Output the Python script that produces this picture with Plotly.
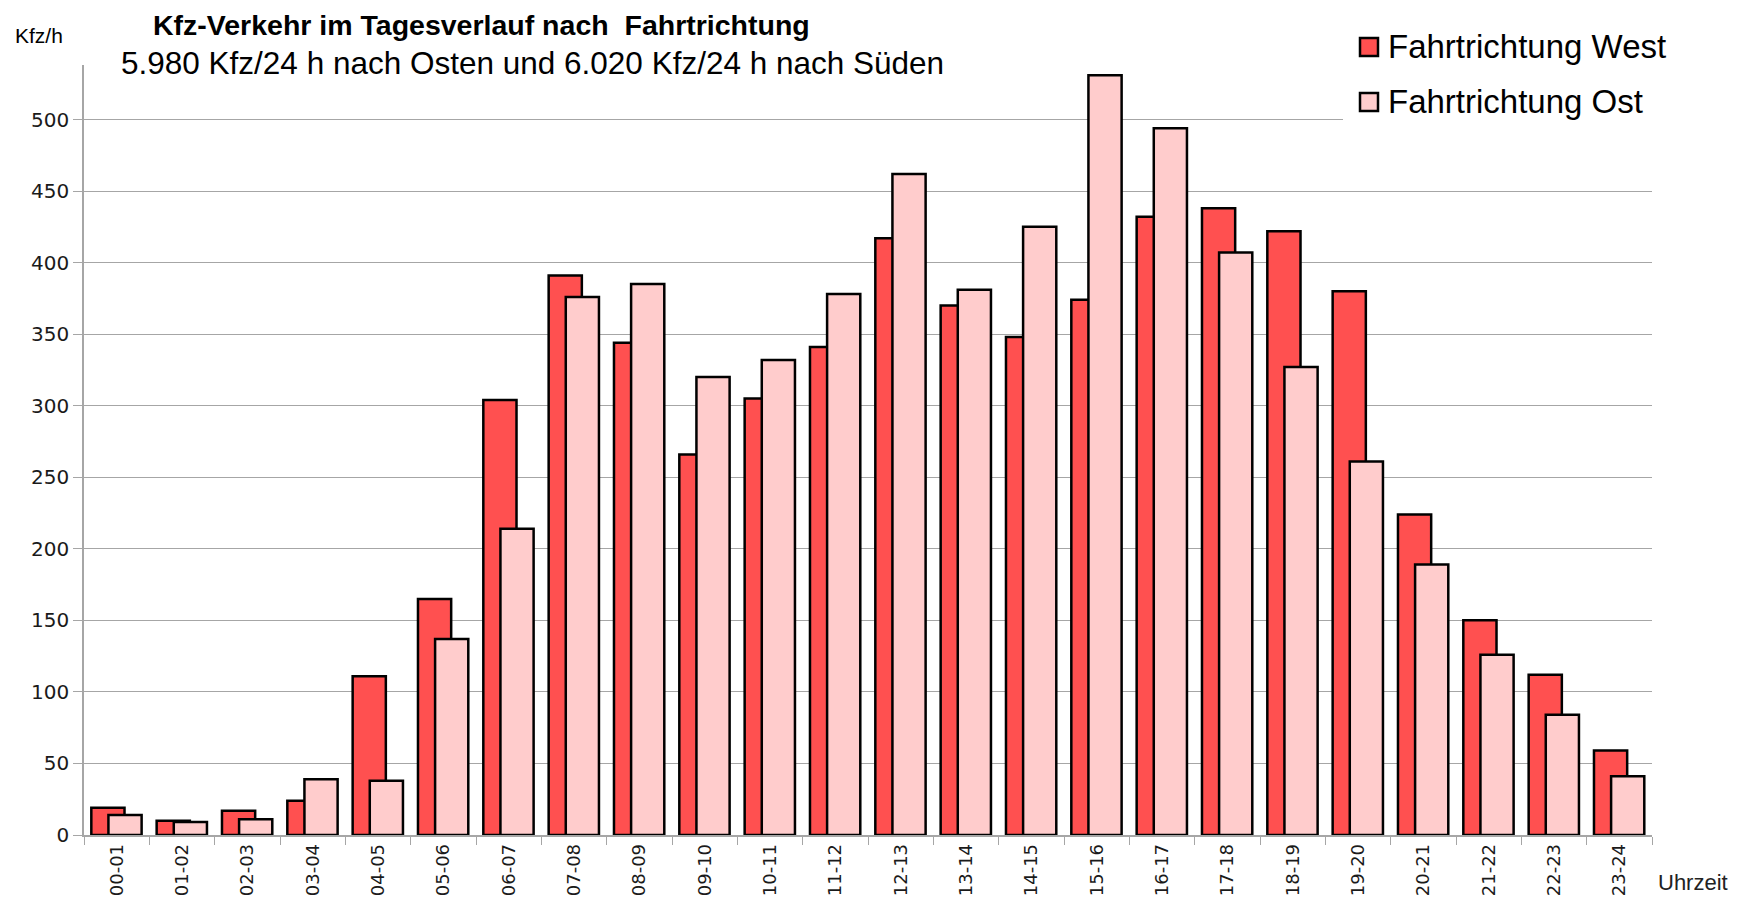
import plotly.graph_objects as go

# Stundenintervalle
hours = [f"{h:02d}-{h + 1:02d}" for h in range(24)]

# Kfz/h je Fahrtrichtung
west = [19, 10, 17, 24, 111, 165, 304, 391, 344, 266, 305, 341,
        417, 370, 348, 374, 432, 438, 422, 380, 224, 150, 112, 59]
ost = [14, 9, 11, 39, 38, 137, 214, 376, 385, 320, 332, 378,
       462, 381, 425, 531, 494, 407, 327, 261, 189, 126, 84, 41]

y_ticks = list(range(0, 551, 50))
y_ticktext = [str(v) for v in y_ticks[:-1]] + [""]

# die Seite hat 8 px Rand, daher Figur etwas kleiner und alles um 8 px versetzt
PAD = 8
W, H = 1760 - PAD, 901 - PAD
L, R, T, B = 84 - PAD, 108, 48 - PAD, 66
PW, PH = W - L - R, H - T - B


def px(x):
    return (x - PAD - L) / PW


def py(y):
    return (H - B - (y - PAD)) / PH


TEXTFONT = "Liberation Sans, Arial, sans-serif"
TICKFONT = dict(family="DejaVu Sans", size=20, color="#1a1a1a")

fig = go.Figure()
fig.add_trace(go.Bar(
    x=hours, y=west, name="Fahrtrichtung West",
    offset=-0.388, width=0.508,
    marker=dict(color="#FF5050", line=dict(color="black", width=2.5)),
))
fig.add_trace(go.Bar(
    x=hours, y=ost, name="Fahrtrichtung Ost",
    offset=-0.126, width=0.508,
    marker=dict(color="#FFCCCC", line=dict(color="black", width=2.5)),
))

shapes = [
    # weiße Kästen hinter Titel und Legende (verdecken Gitterlinien)
    dict(type="rect", xref="paper", yref="paper", x0=px(70), x1=px(993),
         y0=py(65), y1=py(0), fillcolor="white", line=dict(width=0), layer="above"),
    dict(type="rect", xref="paper", yref="paper", x0=px(1343), x1=px(1760),
         y0=py(129), y1=py(0), fillcolor="white", line=dict(width=0), layer="above"),
]
annotations = [
    dict(text="<b>Kfz-Verkehr im Tagesverlauf nach \u00a0Fahrtrichtung</b>",
         xref="paper", yref="paper", x=px(152), y=py(25), xanchor="left", yanchor="middle",
         showarrow=False, borderpad=0,
         font=dict(family=TEXTFONT, size=28.5, color="black")),
    dict(text="5.980 Kfz/24 h nach Osten und 6.020 Kfz/24 h nach Süden",
         xref="paper", yref="paper", x=px(119), y=py(63), xanchor="left", yanchor="middle",
         showarrow=False, font=dict(family=TEXTFONT, size=31.5, color="black")),
    dict(text="Kfz/h", xref="paper", yref="paper", x=px(13), y=py(36),
         xanchor="left", yanchor="middle", showarrow=False,
         font=dict(family=TEXTFONT, size=21, color="black")),
    dict(text="Uhrzeit", xref="paper", yref="paper", x=px(1656), y=py(882),
         xanchor="left", yanchor="middle", showarrow=False,
         font=dict(family=TEXTFONT, size=22, color="#222222")),
]

# Legende von Hand (größere Symbole als die Plotly-Legende)
legend_items = [("Fahrtrichtung West", "#FF5050", 47), ("Fahrtrichtung Ost", "#FFCCCC", 102)]
for label, color, yc in legend_items:
    shapes.append(dict(type="rect", xref="paper", yref="paper",
                       x0=px(1360), x1=px(1378), y0=py(yc + 9), y1=py(yc - 9),
                       fillcolor=color, line=dict(color="black", width=2.5), layer="above"))
    annotations.append(dict(text=label, xref="paper", yref="paper", x=px(1386), y=py(yc),
                            xanchor="left", yanchor="middle", showarrow=False,
                            font=dict(family=TEXTFONT, size=33, color="black")))

fig.update_layout(
    width=W, height=H,
    margin=dict(l=L, r=R, t=T, b=B, autoexpand=False),
    paper_bgcolor="white", plot_bgcolor="white",
    barmode="overlay",
    showlegend=False,
    shapes=shapes,
    annotations=annotations,
    xaxis=dict(
        type="category", tickangle=-90, automargin=False,
        tickfont=dict(family="DejaVu Sans", size=18, color="#1a1a1a"),
        showline=True, linecolor="#a6a6a6", linewidth=1.5,
        ticks="outside", tickson="boundaries", ticklen=8, tickcolor="#a6a6a6",
        showgrid=False, range=[-0.5, 23.5],
    ),
    yaxis=dict(
        range=[0, 550], tickvals=y_ticks, ticktext=y_ticktext, tickfont=TICKFONT,
        automargin=False,
        showline=True, linecolor="#a6a6a6", linewidth=1.5,
        ticks="outside", ticklen=9, tickcolor="#a6a6a6",
        showgrid=True, gridcolor="#a6a6a6", gridwidth=1.2, zeroline=False,
    ),
)

fig.write_html("out.html")
